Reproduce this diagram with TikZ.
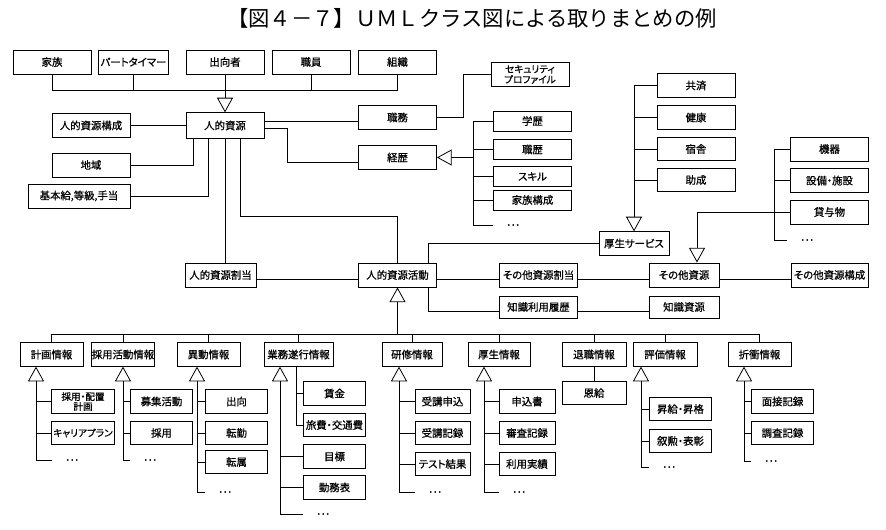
\documentclass[tikz,border=0pt]{standalone}
\usepackage{fontspec}
\setmainfont{Noto Sans CJK JP}[RawFeature=+palt, FakeBold=0.8]
\newfontfamily\titlefont{Noto Sans CJK JP}
\usetikzlibrary{arrows.meta,calc}

\tikzset{
  cls/.style={draw, line width=0.7pt, minimum width=58.5pt, minimum height=18pt, inner sep=0pt, font=\fontsize{7.8}{9}\selectfont},
  leaf/.style={cls, minimum width=47pt, minimum height=17.5pt},
  cont/.style={minimum width=30pt, inner sep=0pt, font=\fontsize{9}{9}\selectfont},
  gen/.style={-{Triangle[open, length=11pt, width=12pt]}},
}

\begin{document}
\begin{tikzpicture}[x=0.75pt, y=-0.75pt, line width=0.6pt]
  \useasboundingbox (0,0) rectangle (886,529);
  \node (title) at (472,18) {\titlefont\fontsize{16}{18}\selectfont 【図４－７】ＵＭＬクラス図による取りまとめの例};

  \node[cls] (kazoku) at (52,62) {家族};
  \node[cls, minimum width=52.5pt] (part) at (133.5,62) {パートタイマー};
  \node[cls] (shukko) at (225,62) {出向者};
  \node[cls] (shokuin) at (311,62) {職員};
  \node[cls] (soshiki) at (397.5,62) {組織};

  \node[cls, minimum height=19pt] (jinteki) at (225,125.5) {人的資源};
  \node[cls, minimum height=17.5pt] (kosei) at (91,125.5) {人的資源構成};
  \node[cls] (chiiki) at (91,165) {地域};
  \node[cls, minimum width=76.5pt] (kihon) at (79,196) {基本給,等級,手当};
  \node[cls, minimum height=17.5pt] (shokumu) at (397.5,117.5) {職務};
  \node[cls, minimum height=17.5pt] (keireki) at (397.5,157.5) {経歴};
  \node[cls, minimum height=17.5pt, align=center, font=\fontsize{7.2}{7.8}\selectfont] (secu) at (530,74.5) {セキュリティ\\プロファイル};

  \node[cls, minimum height=15pt] (gakureki) at (532.5,121) {学歴};
  \node[cls, minimum height=15pt] (shokureki) at (532.5,149.5) {職歴};
  \node[cls, minimum height=15pt] (skill) at (532.5,176.5) {スキル};
  \node[cls, minimum height=15pt] (kazokukosei) at (532.5,200) {家族構成};
  \node[cont] (dK) at (513,225) {…};

  \node[cls, minimum height=17.5pt] (kyosai) at (696,85.5) {共済};
  \node[cls, minimum height=17.5pt] (kenko) at (696,117.5) {健康};
  \node[cls, minimum height=17.5pt] (shukusha) at (696,149) {宿舎};
  \node[cls, minimum height=17.5pt] (josei) at (696,180) {助成};
  \node[cls, minimum width=52.5pt, minimum height=17.5pt] (koseis) at (634,243.5) {厚生サービス};

  \node[cls, minimum width=53.25pt] (wariate) at (220.5,275) {人的資源割当};
  \node[cls] (katsudo) at (397.5,275) {人的資源活動};
  \node[cls] (sonotawari) at (538.5,275) {その他資源割当};
  \node[cls, minimum width=52.5pt] (sonota) at (684,275) {その他資源};
  \node[cls, minimum width=57.75pt] (sonotakosei) at (829.5,275) {その他資源構成};
  \node[cls, minimum height=16.5pt] (chishikirireki) at (538.5,307) {知識利用履歴};
  \node[cls, minimum width=52.5pt, minimum height=16.5pt] (chishiki) at (684,307) {知識資源};

  \node[cls] (kiki) at (829.5,149) {機器};
  \node[cls] (setsubi) at (829.5,180.5) {設備・施設};
  \node[cls] (taiyo) at (829.5,212) {貸与物};
  \node[cont] (dS) at (807,240) {…};

  \node[leaf, minimum width=47.25pt] (keikaku) at (51.5,354.5) {計画情報};
  \node[leaf, minimum width=46.5pt] (saiyokatsudo) at (123,354.5) {採用活動情報};
  \node[leaf, minimum width=47.25pt] (ido) at (208.5,354.5) {異動情報};
  \node[leaf, minimum width=51.75pt] (gyomu) at (298.5,354.5) {業務遂行情報};
  \node[leaf, minimum width=45pt] (kenshu) at (412,354.5) {研修情報};
  \node[leaf, minimum width=46.5pt] (koseijoho) at (499,354.5) {厚生情報};
  \node[leaf, minimum width=48pt] (taishoku) at (594,354.5) {退職情報};
  \node[leaf, minimum width=48pt] (hyoka) at (665,354.5) {評価情報};
  \node[leaf, minimum width=47.25pt] (sessho) at (759.5,354.5) {折衝情報};

  \node[leaf, align=center, font=\fontsize{7.2}{7.4}\selectfont] (c11) at (83,401.5) {採用・配置\\計画};
  \node[leaf, font=\fontsize{7.2}{8}\selectfont] (c12) at (83,433) {キャリアプラン};
  \node[cont] (d1) at (72,460) {…};
  \node[leaf] (c21) at (161.5,401.5) {募集活動};
  \node[leaf] (c22) at (161.5,433) {採用};
  \node[cont] (d2) at (150,460) {…};
  \node[leaf] (c31) at (236.5,401.5) {出向};
  \node[leaf] (c32) at (236.5,433) {転勤};
  \node[leaf] (c33) at (236.5,462) {転属};
  \node[cont] (d3) at (225,492) {…};
  \node[leaf] (c41) at (334.5,393.5) {賃金};
  \node[leaf] (c42) at (334.5,425) {旅費・交通費};
  \node[leaf] (c43) at (334.5,456.5) {目標};
  \node[leaf] (c44) at (334.5,487.5) {勤務表};
  \node[cont] (d4) at (323,514) {…};
  \node[leaf, minimum width=41.25pt] (c51) at (442.5,401.5) {受講申込};
  \node[leaf, minimum width=41.25pt] (c52) at (442.5,433) {受講記録};
  \node[leaf, minimum width=41.25pt] (c53) at (442.5,464) {テスト結果};
  \node[cont] (d5) at (435,492) {…};
  \node[leaf, minimum width=42pt] (c61) at (527,401.5) {申込書};
  \node[leaf, minimum width=42pt] (c62) at (527,433) {審査記録};
  \node[leaf, minimum width=42pt] (c63) at (527,464) {利用実績};
  \node[cont] (d6) at (519,492) {…};
  \node[leaf, minimum width=48pt] (c71) at (594,393) {恩給};
  \node[leaf] (c81) at (680.5,409) {昇給・昇格};
  \node[leaf] (c82) at (680.5,441) {叙勲・表彰};
  \node[cont] (d8) at (669,467) {…};
  \node[leaf] (c91) at (782.5,401.5) {面接記録};
  \node[leaf] (c92) at (782.5,433) {調査記録};
  \node[cont] (d9) at (771,461) {…};

  \coordinate (busT) at ($(shukko.south)+(0,16)$);
  \draw (kazoku.south) |- (busT) -| (soshiki.south);
  \foreach \n in {part, shokuin}
    \draw (\n.south) -- (\n.south |- busT);
  \draw[gen] (shukko.south) -- (jinteki.north);

  \draw (kosei) -- (jinteki);
  \draw (chiiki.east) -| ($(jinteki.south)+(-32,0)$);
  \draw (kihon.east) -| ($(jinteki.south)+(-17,0)$);
  \draw (jinteki.south) -- (jinteki.south |- wariate.north);
  \draw ($(jinteki.south)+(15,0)$) -- ++(0,78) -| (katsudo.north);
  \draw ($(jinteki.east)+(0,-4)$) -- ($(shokumu.west)+(0,4)$);
  \draw ($(jinteki.east)+(0,3)$) -- ++(23,0) |- ($(keireki.west)+(0,4.5)$);
  \draw (shokumu.east) -- ++(26,0) |- (secu.west);

  \draw (gakureki.west) -| ++(-20,0) |- (dK.west);
  \coordinate (gK) at ($(gakureki.west)+(-20,0)$);
  \foreach \c in {shokureki, skill, kazokukosei}
    \draw (\c.west) -- (\c.west -| gK);
  \draw[gen] (keireki.east -| gK) -- (keireki.east);

  \draw[gen] (kyosai.west) -| (koseis.north);
  \foreach \c in {kenko, shukusha, josei}
    \draw (\c.west) -- (\c.west -| koseis.north);
  \draw (koseis.west) -| ($(katsudo.north)+(30.5,0)$);
  \draw ($(katsudo.south)+(30.5,0)$) |- ([yshift=-3pt]chishikirireki.west);

  \draw[gen] (taiyo.west) -| ($(sonota.north)+(13,0)$);
  \coordinate (gS) at ($(kiki.west)+(-16,0)$);
  \draw (kiki.west) -- (gS) |- (dS.west);
  \draw (setsubi.west) -- (setsubi.west -| gS);

  \draw ([yshift=-3pt]wariate.east) -- ([yshift=-3pt]katsudo.west);
  \draw ([yshift=-3pt]katsudo.east) -- ([yshift=-3pt]sonotawari.west);
  \draw ([yshift=-3pt]sonotawari.east) -- ([yshift=-3pt]sonota.west);
  \draw ([yshift=-3pt]sonota.east) -- ([yshift=-3pt]sonotakosei.west);
  \draw ([yshift=-3pt]chishikirireki.east) -- ([yshift=-3pt]chishiki.west);

  \coordinate (busB) at ($(katsudo.south)+(0,47)$);
  \draw (keikaku.north) |- (busB) -| (sessho.north);
  \foreach \n in {saiyokatsudo, ido, gyomu, kenshu, koseijoho, taishoku, hyoka}
    \draw (\n.north) -- (\n.north |- busB);
  \draw[gen] (busB) -- (katsudo.south);

  \coordinate (g1) at ($(keikaku.south)+(-15.5,0)$);
  \coordinate (g2) at (saiyokatsudo.south);
  \coordinate (g3) at ($(ido.south)+(-11.5,0)$);
  \coordinate (g4) at ($(gyomu.south)+(-18.5,0)$);
  \coordinate (g5) at ($(kenshu.south)+(-13,0)$);
  \coordinate (g6) at ($(koseijoho.south)+(-15,0)$);
  \coordinate (g8) at ($(hyoka.south)+(-24,0)$);
  \coordinate (g9) at ($(sessho.south)+(-15.5,0)$);
  \foreach \g/\d in {g1/d1, g2/d2, g3/d3, g4/d4, g5/d5, g6/d6, g8/d8, g9/d9}
    \draw[gen] (\d.west) -| (\g);
  \foreach \g/\c in {g1/c11, g1/c12, g2/c21, g2/c22, g3/c31, g3/c32, g3/c33,
                     g4/c43, g4/c44, g5/c51, g5/c52, g5/c53, g6/c61, g6/c62, g6/c63,
                     g8/c81, g8/c82, g9/c91, g9/c92}
    \draw (\c.west) -- (\c.west -| \g);
  \draw ($(gyomu.south)+(-2.5,0)$) |- (c41.west);
  \draw ($(gyomu.south)+(-2.5,0)$) |- (c42.west);
  \draw (taishoku) -- (c71);
\end{tikzpicture}
\end{document}
